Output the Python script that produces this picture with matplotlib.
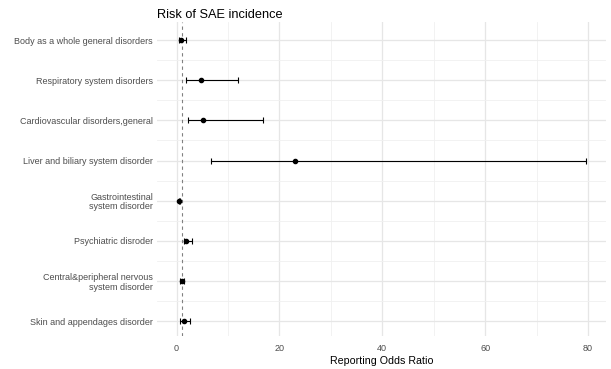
import numpy as np
import matplotlib.pyplot as plt
from matplotlib.ticker import MultipleLocator

plt.rcParams['font.family'] = ['Liberation Sans', 'DejaVu Sans']

categories = ['Body as a whole general disorders',
              'Respiratory system disorders',
              'Cardiovascular disorders,general',
              'Liver and biliary system disorder',
              'Gastrointestinal\nsystem disorder',
              'Psychiatric disroder',
              'Central&peripheral nervous\nsystem disorder',
              'Skin and appendages disorder']
ror = [0.9, 4.8, 5.2, 23.0, 0.5, 1.9, 1.1, 1.5]
ci_low = [0.5, 1.9, 2.2, 6.7, 0.4, 1.4, 0.7, 0.7]
ci_high = [1.8, 12.0, 16.8, 79.7, 0.6, 3.0, 1.5, 2.7]

ypos = np.arange(len(categories))
ror = np.array(ror)
err = [ror - np.array(ci_low), np.array(ci_high) - ror]

fig = plt.figure(figsize=(6.11, 3.69), dpi=100)
ax = fig.add_axes([157 / 611, 1 - 336 / 369, 449 / 611, 314 / 369])

ax.errorbar(ror, ypos, xerr=err, fmt='o', color='black', ms=3,
            elinewidth=0.8, capsize=2.2, capthick=0.8, zorder=3)
ax.axvline(1, color='#808080', ls=(0, (3, 3)), lw=0.8, zorder=2)

ax.set_xlim(-3.8, 83.5)
ax.set_ylim(7.37, -0.45)
ax.set_yticks(ypos)
ax.set_yticklabels(categories, linespacing=1.1)
ax.xaxis.set_major_locator(MultipleLocator(20))
ax.xaxis.set_minor_locator(MultipleLocator(10))
ax.set_yticks(ypos[:-1] + 0.5, minor=True)

ax.grid(True, which='major', color='#e6e6e6', lw=0.9)
ax.grid(True, which='minor', color='#f0f0f0', lw=0.6)
ax.set_axisbelow(True)
for s in ax.spines.values():
    s.set_visible(False)
ax.tick_params(which='both', length=0, colors='#4d4d4d', labelsize=6.5)
ax.tick_params(axis='x', pad=6)
ax.tick_params(axis='y', pad=3)

ax.set_xlabel('Reporting Odds Ratio', fontsize=7.7, labelpad=2)
ax.set_title('Risk of SAE incidence', loc='left', fontsize=9.2, pad=3)

fig.savefig('out.png', dpi=100)
